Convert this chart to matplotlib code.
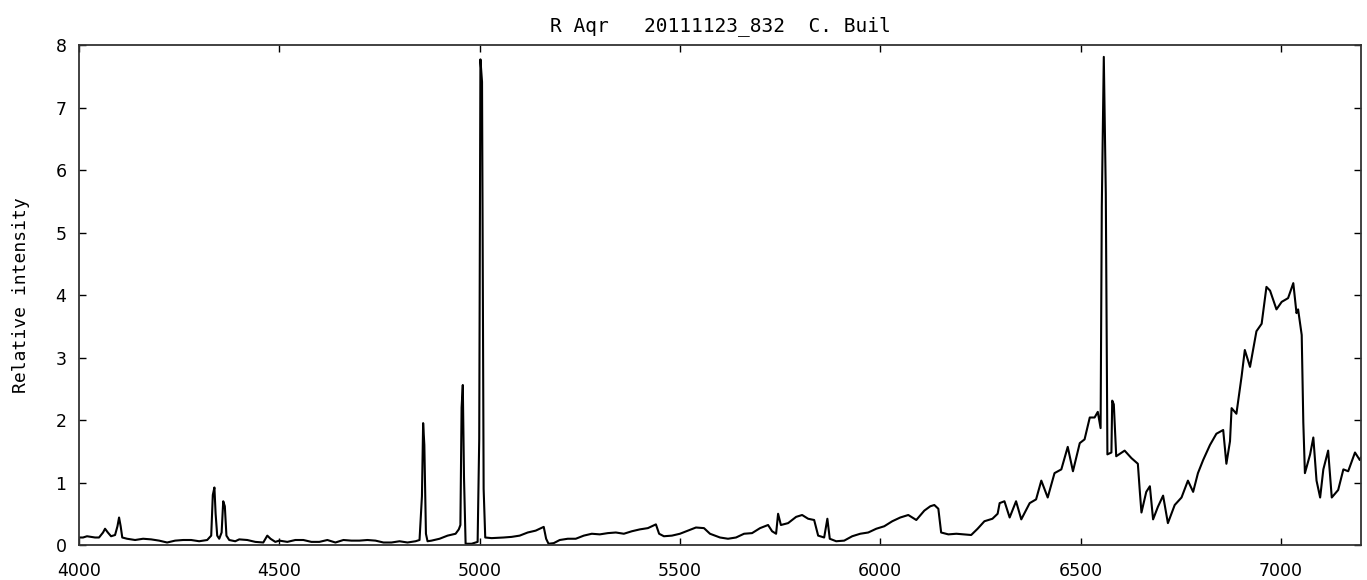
import matplotlib
matplotlib.use("Agg")
import matplotlib.pyplot as plt

# spectrum (wavelength in Angstrom, relative intensity)
wavelength = [
    4000, 4010, 4020, 4030, 4040, 4050, 4060, 4065, 4072, 4080, 4090, 4096, 4100, 4104, 4108,
    4120, 4140, 4160, 4180, 4200, 4220, 4240, 4260, 4280, 4300, 4320, 4330, 4334, 4338, 4341,
    4345, 4350, 4356, 4360, 4364, 4368, 4375, 4390, 4400, 4420, 4440, 4460, 4470, 4478, 4490,
    4500, 4520, 4540, 4560, 4580, 4600, 4620, 4640, 4660, 4680, 4700, 4720, 4740, 4760, 4780,
    4800, 4820, 4840, 4850, 4856, 4859, 4862, 4866, 4870, 4880, 4900, 4920, 4940, 4948, 4952,
    4955, 4958, 4961, 4965, 4980, 4995, 4999, 5002, 5006, 5010, 5014, 5030, 5060, 5080, 5100,
    5120, 5140, 5160, 5166, 5172, 5185, 5200, 5220, 5240, 5260, 5280, 5300, 5320, 5340, 5360,
    5380, 5400, 5420, 5440, 5448, 5460, 5480, 5500, 5520, 5540, 5560, 5575, 5600, 5620, 5640,
    5660, 5680, 5700, 5720, 5730, 5740, 5745, 5752, 5770, 5790, 5805, 5820, 5835, 5845, 5860,
    5868, 5874, 5890, 5910, 5930, 5950, 5970, 5990, 6010, 6030, 6050, 6070, 6090, 6110, 6125,
    6135, 6145, 6152, 6170, 6190, 6210, 6227, 6243, 6260, 6280, 6293, 6298, 6310, 6323, 6339,
    6352, 6373, 6389, 6402, 6418, 6435, 6452, 6468, 6481, 6498, 6510, 6523, 6535, 6543, 6550,
    6553, 6558, 6563, 6567, 6577, 6579, 6583, 6589, 6610, 6627, 6643, 6648, 6652, 6664, 6673,
    6681, 6693, 6706, 6718, 6735, 6752, 6768, 6781, 6793, 6806, 6823, 6839, 6856, 6864, 6873,
    6877, 6889, 6902, 6910, 6923, 6939, 6952, 6964, 6973, 6989, 7002, 7018, 7031, 7039, 7043,
    7052, 7056, 7060, 7073, 7081, 7089, 7098, 7106, 7118, 7127, 7143, 7156, 7168, 7185, 7197,
    7200,
]
intensity = [
    0.12, 0.12, 0.14, 0.13, 0.12, 0.12, 0.20, 0.26, 0.20, 0.14, 0.16, 0.30, 0.44, 0.30, 0.12,
    0.10, 0.08, 0.10, 0.09, 0.07, 0.04, 0.07, 0.08, 0.08, 0.06, 0.08, 0.15, 0.80, 0.92, 0.50,
    0.15, 0.10, 0.20, 0.70, 0.62, 0.15, 0.08, 0.06, 0.09, 0.08, 0.05, 0.04, 0.15, 0.10, 0.05,
    0.07, 0.05, 0.08, 0.08, 0.05, 0.05, 0.08, 0.04, 0.08, 0.07, 0.07, 0.08, 0.07, 0.04, 0.04,
    0.06, 0.04, 0.06, 0.08, 0.78, 1.95, 1.60, 0.18, 0.06, 0.07, 0.10, 0.15, 0.18, 0.25, 0.32,
    2.20, 2.56, 1.08, 0.02, 0.02, 0.05, 1.70, 7.77, 7.41, 0.90, 0.12, 0.11, 0.12, 0.13, 0.15,
    0.20, 0.23, 0.29, 0.10, 0.02, 0.03, 0.08, 0.10, 0.10, 0.15, 0.18, 0.17, 0.19, 0.20, 0.18,
    0.22, 0.25, 0.27, 0.33, 0.18, 0.14, 0.15, 0.18, 0.23, 0.28, 0.27, 0.18, 0.12, 0.10, 0.12,
    0.18, 0.19, 0.27, 0.32, 0.22, 0.18, 0.50, 0.32, 0.35, 0.45, 0.48, 0.42, 0.40, 0.15, 0.12,
    0.42, 0.10, 0.06, 0.07, 0.14, 0.18, 0.20, 0.26, 0.30, 0.38, 0.44, 0.48, 0.40, 0.55, 0.62,
    0.64, 0.58, 0.20, 0.17, 0.18, 0.17, 0.16, 0.26, 0.38, 0.42, 0.50, 0.67, 0.70, 0.44, 0.70,
    0.41, 0.67, 0.73, 1.03, 0.76, 1.15, 1.21, 1.57, 1.18, 1.63, 1.69, 2.04, 2.04, 2.13, 1.87,
    5.41, 7.81, 5.62, 1.45, 1.48, 2.31, 2.25, 1.42, 1.51, 1.39, 1.30, 0.85, 0.52, 0.85, 0.94,
    0.41, 0.61, 0.79, 0.35, 0.64, 0.76, 1.03, 0.85, 1.15, 1.36, 1.60, 1.78, 1.84, 1.30, 1.66,
    2.19, 2.10, 2.70, 3.12, 2.85, 3.42, 3.54, 4.13, 4.07, 3.77, 3.89, 3.95, 4.19, 3.71, 3.77,
    3.36, 1.96, 1.15, 1.45, 1.72, 1.03, 0.76, 1.21, 1.51, 0.76, 0.88, 1.21, 1.18, 1.48, 1.36,
    1.40,
]

x_ticks = [4000, 4500, 5000, 5500, 6000, 6500, 7000]
y_ticks = [0, 1, 2, 3, 4, 5, 6, 7, 8]
title = "R Aqr   20111123_832  C. Buil"
ylabel = "Relative intensity"

fig = plt.figure(figsize=(13.67, 5.80), dpi=100)
ax = fig.add_axes([79 / 1367, 35 / 580, (1361 - 79) / 1367, 500 / 580])

ax.plot(wavelength, intensity, color="black", linewidth=1.5)

ax.set_xlim(4000, 7200)
ax.set_ylim(0, 8)
ax.set_xticks(x_ticks)
ax.set_yticks(y_ticks)
ax.tick_params(direction="in", top=True, right=True, length=5, width=1,
               labelsize=12.5, colors="black")
ax.tick_params(axis="x", pad=12)
ax.tick_params(axis="y", pad=9)
for s in ax.spines.values():
    s.set_linewidth(1.3)
    s.set_color("#333333")

ax.set_title(title, family="DejaVu Sans Mono", fontsize=14, pad=10)
ax.set_ylabel(ylabel, family="DejaVu Sans Mono", fontsize=13, labelpad=18)

fig.savefig("out.png", dpi=100)
